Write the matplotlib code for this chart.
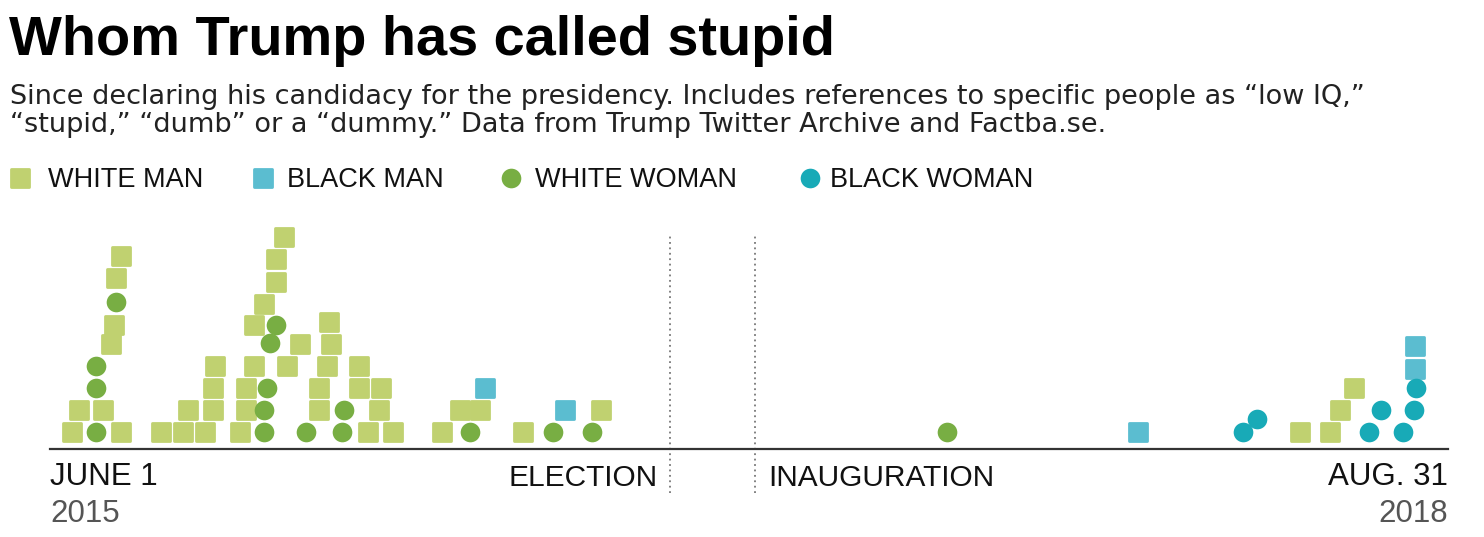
import matplotlib
matplotlib.use("Agg")
import matplotlib.pyplot as plt
from matplotlib.markers import MarkerStyle

plt.rcParams['font.family'] = ['Liberation Sans', 'DejaVu Sans']

# days since June 1, 2015 and stack level (0 = resting on the axis)
white_man_days = [19, 60, 94, 113, 132, 161, 270, 291, 333, 402, 1061, 1087,
                  25, 45, 117, 138, 166, 228, 279, 348, 365, 468, 1095,
                  138, 166, 228, 262, 281, 1107,
                  140, 173, 201, 235, 262,
                  52, 212, 239,
                  54, 173, 237,
                  182, 56, 192, 60, 192, 199]
white_man_level = [0, 0, 0, 0, 0, 0, 0, 0, 0, 0, 0, 0,
                   1, 1, 1, 1, 1, 1, 1, 1, 1, 1, 1,
                   2, 2, 2, 2, 2, 2,
                   3, 3, 3, 3, 3,
                   4, 4, 4,
                   4.9, 4.9, 5,
                   5.85, 7, 6.85, 8, 7.9, 8.9]

white_woman_days = [39, 182, 217, 248, 357, 427, 460, 762, 182, 250, 39, 184, 39, 187, 192, 56]
white_woman_level = [0, 0, 0, 0, 0, 0, 0, 0, 1, 1, 2, 2, 3, 4.05, 4.9, 5.95]

black_man_days = [924, 437, 369, 1159, 1159]
black_man_level = [0, 1, 2, 2.9, 3.95]

black_woman_days = [1013, 1120, 1149, 1025, 1130, 1158, 1160]
black_woman_level = [0, 0, 0, 0.6, 1, 1, 2]

total_days = 1187      # June 1, 2015 -> Aug. 31, 2018
election_day = 526
inauguration_day = 599

c_white_man = '#c0d170'
c_black_man = '#5bbdd0'
c_white_woman = '#78ae43'
c_black_woman = '#18aab7'

W, H = 1484, 537
fig = plt.figure(figsize=(W / 100, H / 100), dpi=100)

# main plot area: x from 50px to 1448px, baseline at y=449px
ax = fig.add_axes([50 / W, (H - 449) / H, 1398 / W, 224 / H])
ax.set_xlim(0, total_days)
ax.set_ylim(-0.75, 9.43)
for s in ['top', 'right', 'left']:
    ax.spines[s].set_visible(False)
ax.spines['bottom'].set_color('#333333')
ax.spines['bottom'].set_linewidth(1.6)
ax.set_xticks([])
ax.set_yticks([])

sq = MarkerStyle('s', joinstyle='round')
ax.scatter(white_man_days, white_man_level, marker=sq, s=150, color=c_white_man,
           edgecolors=c_white_man, linewidths=2, zorder=3, clip_on=False)
ax.scatter(black_man_days, black_man_level, marker=sq, s=150, color=c_black_man,
           edgecolors=c_black_man, linewidths=2, zorder=3, clip_on=False)
ax.scatter(white_woman_days, white_woman_level, marker='o', s=200, color=c_white_woman,
           linewidths=0, zorder=4, clip_on=False)
ax.scatter(black_woman_days, black_woman_level, marker='o', s=200, color=c_black_woman,
           linewidths=0, zorder=4, clip_on=False)

for d in [election_day, inauguration_day]:
    ax.axvline(d, ymin=-0.196, ymax=0.964, color='#777777', linestyle=(0, (1, 2)),
               linewidth=1.3, clip_on=False)

# overlay in pixel coordinates for the text
ov = fig.add_axes([0, 0, 1, 1])
ov.set_xlim(0, W)
ov.set_ylim(H, 0)
ov.axis('off')
ov.patch.set_alpha(0)

ov.text(9, 55, "Whom Trump has called stupid", fontsize=40.3, fontweight='bold',
        color='#000000', va='baseline')
sub_font = ['DejaVu Sans']
ov.text(10, 104, "Since declaring his candidacy for the presidency. Includes references to specific people as \u201clow IQ,\u201d",
        fontsize=19.5, family=sub_font, color='#222222', va='baseline')
ov.text(10, 132, "\u201cstupid,\u201d \u201cdumb\u201d or a \u201cdummy.\u201d Data from Trump Twitter Archive and Factba.se.",
        fontsize=19.5, family=sub_font, color='#222222', va='baseline')

legend_items = [("WHITE MAN", 's', c_white_man, 20, 48),
                ("BLACK MAN", 's', c_black_man, 263, 287),
                ("WHITE WOMAN", 'o', c_white_woman, 511, 535),
                ("BLACK WOMAN", 'o', c_black_woman, 810, 830)]
for label, mk, col, mx, tx in legend_items:
    if mk == 's':
        ov.scatter([mx], [177.5], marker=sq, s=150, color=col, edgecolors=col, linewidths=2)
    else:
        ov.scatter([mx], [177.5], marker='o', s=200, color=col, linewidths=0)
    ov.text(tx, 187, label, fontsize=19.5, color='#111111', va='baseline')

ov.text(50, 485, "JUNE 1", fontsize=22.5, color='#111111', va='baseline')
ov.text(50, 522, "2015", fontsize=22.5, color='#555555', va='baseline')
ov.text(658, 486, "ELECTION", fontsize=21.5, color='#111111', va='baseline', ha='right')
ov.text(768, 486, "INAUGURATION", fontsize=21.5, color='#111111', va='baseline')
ov.text(1448, 485, "AUG. 31", fontsize=22.5, color='#111111', va='baseline', ha='right')
ov.text(1448, 522, "2018", fontsize=22.5, color='#555555', va='baseline', ha='right')

fig.savefig("out.png", dpi=100, facecolor='white')
